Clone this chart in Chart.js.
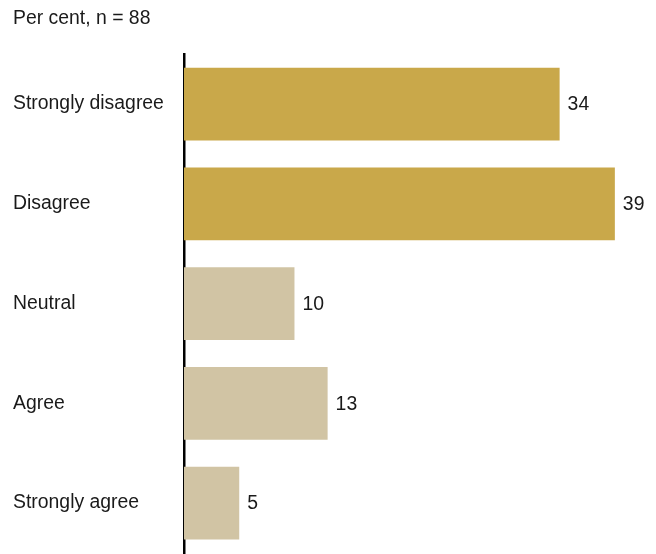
<!DOCTYPE html>
<html>
<head>
<meta charset="utf-8">
<script src="https://cdn.jsdelivr.net/npm/chart.js@4/dist/chart.umd.min.js"></script>
<style>
  html, body { margin: 0; padding: 0; background: #fff; overflow: hidden; }
  canvas { display: block; }
</style>
</head>
<body>
<canvas id="chart" width="656" height="554"></canvas>
<script>
// 数据
const categories = ['Strongly disagree', 'Disagree', 'Neutral', 'Agree', 'Strongly agree'];
const shares = [34, 39, 10, 13, 5];
const barColors = ['#C9A84A', '#C9A84A', '#D1C4A4', '#D1C4A4', '#D1C4A4'];
const titleText = 'Per cent, n = 88';

const FONT = 'Arial, "Liberation Sans", sans-serif';
const FONT_SIZE = 19.4;

// 在柱子末端画数值
const valueLabels = {
    id: 'valueLabels',
    afterDatasetsDraw(chart) {
        const ctx = chart.ctx;
        const meta = chart.getDatasetMeta(0);
        ctx.save();
        ctx.font = FONT_SIZE + 'px ' + FONT;
        ctx.fillStyle = '#1a1a1a';
        ctx.textAlign = 'left';
        ctx.textBaseline = 'middle';
        meta.data.forEach((bar, i) => {
            ctx.fillText(String(shares[i]), bar.x + 8, bar.y + 1);
        });
        ctx.restore();
    }
};

new Chart(document.getElementById('chart'), {
    type: 'bar',
    data: {
        labels: categories,
        datasets: [{
            data: shares,
            backgroundColor: barColors,
            borderWidth: 0,
            barPercentage: 0.73,
            categoryPercentage: 1
        }]
    },
    options: {
        indexAxis: 'y',
        responsive: false,
        animation: false,
        layout: { padding: { left: 13, right: 8, top: 0, bottom: 1 } },
        scales: {
            x: {
                display: false,
                min: 0,
                max: 42
            },
            y: {
                grid: { display: false },
                border: { display: true, color: '#000', width: 2.5 },
                ticks: {
                    crossAlign: 'far',
                    color: '#1a1a1a',
                    font: { size: FONT_SIZE, family: FONT }
                },
                afterFit(scale) {
                    scale.width = 171;
                    // 去掉标签预留的上下边距，让轴线贴到底部
                    scale.paddingTop = 0;
                    scale.paddingBottom = 0;
                }
            }
        },
        plugins: {
            legend: { display: false },
            tooltip: { enabled: false },
            title: {
                display: true,
                text: titleText,
                align: 'start',
                color: '#1a1a1a',
                font: { size: FONT_SIZE, family: FONT, weight: 'normal' },
                padding: { top: 7, bottom: 24 }
            }
        }
    },
    plugins: [valueLabels]
});
</script>
</body>
</html>
